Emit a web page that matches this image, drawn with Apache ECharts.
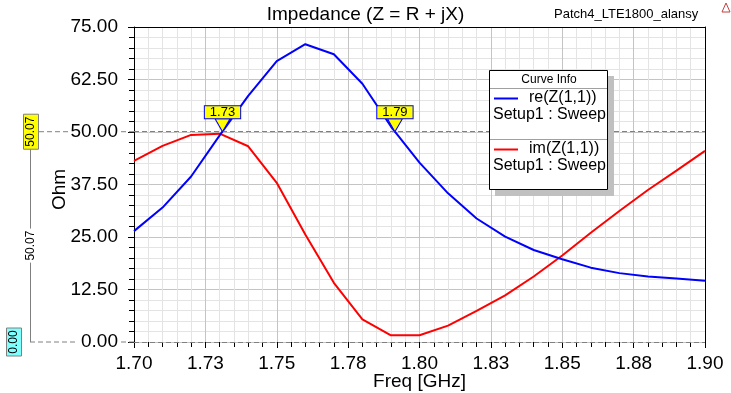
<!DOCTYPE html>
<html>
<head>
<meta charset="utf-8">
<script src="https://cdn.jsdelivr.net/npm/echarts@6/dist/echarts.min.js"></script>
<style>
html,body{margin:0;padding:0;background:#fff;}
#chart{width:731px;height:393px;}
</style>
</head>
<body>
<div id="chart"></div>
<script>
// ---- data ----
var freq = [1.70, 1.71, 1.72, 1.73, 1.74, 1.75, 1.76, 1.77, 1.78, 1.79, 1.80,
            1.81, 1.82, 1.83, 1.84, 1.85, 1.86, 1.87, 1.88, 1.89, 1.90];
var reZ = [26.4, 32.0, 39.4, 49.2, 58.6, 66.9, 70.9, 68.5, 61.5, 51.3, 42.7,
           35.4, 29.4, 25.1, 21.9, 19.7, 17.7, 16.4, 15.6, 15.1, 14.6];
var imZ = [43.1, 46.7, 49.3, 49.6, 46.6, 37.9, 25.6, 14.1, 5.4, 1.6, 1.6,
           3.9, 7.4, 11.1, 15.6, 20.6, 26.0, 31.2, 36.2, 40.8, 45.5];
var seriesNames = ['re(Z(1,1))', 'im(Z(1,1))'];
var setupName = 'Setup1 : Sweep';
var xTickLabels = ['1.70', '1.73', '1.75', '1.78', '1.80', '1.83', '1.85', '1.88', '1.90'];
var yTickLabels = ['0.00', '12.50', '25.00', '37.50', '50.00', '62.50', '75.00'];
var markerFreq = [1.731, 1.7914];
var markerLabels = ['1.73', '1.79'];
var markerValue = 50.07;
var markerValueLabel = '50.07';
var baseValue = 0;
var baseValueLabel = '0.00';
var titleText = 'Impedance (Z = R + jX)';
var projectText = 'Patch4_LTE1800_alansy';
var xName = 'Freq [GHz]';
var yName = 'Ohm';

var FONT = '"Liberation Sans", Arial, sans-serif';
var chart = echarts.init(document.getElementById('chart'), null, {renderer: 'canvas'});

function pairs(ys) { return freq.map(function (f, i) { return [f, ys[i]]; }); }

var axisCommonX = {
  type: 'value', min: 1.70, max: 1.90, interval: 0.025
};
var axisCommonY = {
  type: 'value', min: 0, max: 75, interval: 12.5
};

var option = {
  animation: false,
  textStyle: {fontFamily: FONT},
  title: [
    {text: titleText, left: 'center', top: 0,
     textStyle: {fontFamily: FONT, fontSize: 19, fontWeight: 'normal', color: '#000'}},
    {text: projectText, left: 549, top: 3,
     textStyle: {fontFamily: FONT, fontSize: 13, fontWeight: 'normal', color: '#000'}}
  ],
  grid: {left: 134, right: 26, top: 27, bottom: 51, containLabel: false, outerBoundsMode: 'none'},
  xAxis: [
    Object.assign({}, axisCommonX, {
      position: 'bottom',
      axisLine: {show: false},
      axisTick: {show: true, inside: false, length: 6, lineStyle: {color: '#000'}},
      minorTick: {show: true, splitNumber: 5, length: 5, lineStyle: {color: '#000'}},
      splitLine: {show: true, lineStyle: {color: '#c4c4c4', width: 1}},
      minorSplitLine: {show: true, lineStyle: {color: '#e4e4e4', width: 1}},
      axisLabel: {
        fontFamily: FONT, fontSize: 19, color: '#000', margin: 12,
        formatter: function (v) { return xTickLabels[Math.round((v - 1.70) / 0.025)]; }
      }
    }),
    Object.assign({}, axisCommonX, {
      position: 'top',
      axisLine: {show: true, onZero: false, lineStyle: {color: '#000', width: 1}},
      axisTick: {show: false}, axisLabel: {show: false}, splitLine: {show: false}
    })
  ],
  yAxis: [
    Object.assign({}, axisCommonY, {
      position: 'left',
      axisLine: {show: true, onZero: false, lineStyle: {color: '#000', width: 1}},
      axisTick: {show: true, inside: false, length: 6, lineStyle: {color: '#000'}},
      minorTick: {show: true, splitNumber: 5, length: 5, lineStyle: {color: '#000'}},
      splitLine: {show: true, lineStyle: {color: '#c4c4c4', width: 1}},
      minorSplitLine: {show: true, lineStyle: {color: '#e4e4e4', width: 1}},
      axisLabel: {
        fontFamily: FONT, fontSize: 19, color: '#000', margin: 16,
        formatter: function (v) { return yTickLabels[Math.round(v / 12.5)]; }
      }
    }),
    Object.assign({}, axisCommonY, {
      position: 'right',
      axisLine: {show: true, onZero: false, lineStyle: {color: '#000', width: 1}},
      axisTick: {show: false}, axisLabel: {show: false}, splitLine: {show: false}
    })
  ],
  series: [
    {
      type: 'line', name: seriesNames[0], data: pairs(reZ),
      xAxisIndex: 0, yAxisIndex: 0,
      symbol: 'none', color: '#0000ff',
      lineStyle: {color: '#0000ff', width: 2},
      z: 4,
      markPoint: {
        silent: true,
        symbol: 'triangle', symbolRotate: 180, symbolSize: [15, 13], symbolOffset: [0, -6.5],
        itemStyle: {color: '#ffff00', borderColor: '#0000ff', borderWidth: 1},
        label: {
          show: true, position: 'top', distance: 0,
          fontFamily: FONT, fontSize: 13, color: '#000',
          backgroundColor: '#ffff00', borderColor: '#0000ff', borderWidth: 1,
          padding: [0, 5], lineHeight: 12, height: 12,
          formatter: function (p) { return p.name; }
        },
        data: markerFreq.map(function (f, i) { return {name: markerLabels[i], coord: [f, markerValue]}; })
      }
    },
    {
      type: 'line', name: seriesNames[1], data: pairs(imZ),
      xAxisIndex: 0, yAxisIndex: 0,
      symbol: 'none', color: '#ff0000',
      lineStyle: {color: '#ff0000', width: 2},
      z: 3,
      markLine: {
        silent: true, symbol: 'none',
        label: {show: false},
        lineStyle: {color: '#808080', type: [5, 3], width: 1},
        data: [{yAxis: markerValue}, {yAxis: baseValue}]
      }
    }
  ]
};
chart.setOption(option);

// ---- decorations outside / over the plot ----
var py50 = chart.convertToPixel({yAxisIndex: 0}, markerValue);
var py0 = chart.convertToPixel({yAxisIndex: 0}, baseValue);
var pxL = chart.convertToPixel({xAxisIndex: 0}, axisCommonX.min);
var pxR = chart.convertToPixel({xAxisIndex: 0}, axisCommonX.max);
var pyTop = chart.convertToPixel({yAxisIndex: 0}, axisCommonY.max);
var grey = '#808080';
var dash = [5, 3];

var graphics = [
  // left marker scale
  {type: 'line', z: 90, shape: {x1: 39, y1: py50, x2: 68, y2: py50}, style: {stroke: grey, lineDash: dash, lineWidth: 1}},
  {type: 'line', z: 90, shape: {x1: 121, y1: py50, x2: 134, y2: py50}, style: {stroke: grey, lineDash: dash, lineWidth: 1}},
  {type: 'line', z: 90, shape: {x1: 30, y1: py0, x2: 78, y2: py0}, style: {stroke: grey, lineDash: dash, lineWidth: 1}},
  {type: 'line', z: 90, shape: {x1: 121, y1: py0, x2: 134, y2: py0}, style: {stroke: grey, lineDash: dash, lineWidth: 1}},
  {type: 'line', z: 90, shape: {x1: 30.5, y1: py50 + 17.5, x2: 30.5, y2: py0}, style: {stroke: grey, lineWidth: 1}},
  {type: 'rect', z: 95, shape: {x: 23.5, y: py50 - 17.5, width: 15, height: 35}, style: {fill: '#ffff00', stroke: grey, lineWidth: 1}},
  {type: 'text', z: 100, x: 31, y: py50, rotation: Math.PI / 2,
   style: {text: markerValueLabel, font: '12px ' + FONT, fill: '#000', align: 'center', verticalAlign: 'middle'}},
  {type: 'text', z: 100, x: 30.5, y: (py50 + 17.5 + py0) / 2, rotation: Math.PI / 2,
   style: {text: markerValueLabel, font: '12px ' + FONT, fill: '#000', align: 'center', verticalAlign: 'middle',
           backgroundColor: '#fff', padding: [0, 2]}},
  {type: 'rect', z: 95, shape: {x: 6.5, y: py0 - 14, width: 15, height: 28}, style: {fill: '#80ffff', stroke: grey, lineWidth: 1}},
  {type: 'text', z: 100, x: 14, y: py0, rotation: Math.PI / 2,
   style: {text: baseValueLabel, font: '12px ' + FONT, fill: '#000', align: 'center', verticalAlign: 'middle'}},
  // axis names
  {type: 'text', z: 100, x: 60, y: (pyTop + py0) / 2 + 5, rotation: Math.PI / 2,
   style: {text: yName, font: '19px ' + FONT, fill: '#000', align: 'center', verticalAlign: 'middle'}},
  {type: 'text', z: 100, x: (pxL + pxR) / 2, y: py0 + 40,
   style: {text: xName, font: '19px ' + FONT, fill: '#000', align: 'center', verticalAlign: 'middle'}},
  // small icon top right
  {type: 'polygon', z: 100, shape: {points: [[726, 3], [722, 12], [730, 12]]}, style: {fill: 'none', stroke: '#c04040', lineWidth: 1}},
  // legend box
  {type: 'rect', z: 90, shape: {x: 495, y: 76, width: 119, height: 120}, style: {fill: '#c0c0c0'}},
  {type: 'rect', z: 91, shape: {x: 489.5, y: 70.5, width: 118, height: 119}, style: {fill: '#fff', stroke: '#000', lineWidth: 1}},
  {type: 'text', z: 100, x: 549, y: 80, style: {text: 'Curve Info', font: '12px ' + FONT, fill: '#000', align: 'center', verticalAlign: 'middle'}},
  {type: 'line', z: 92, shape: {x1: 490, y1: 88.5, x2: 607, y2: 88.5}, style: {stroke: '#a0a0a0', lineWidth: 1}},
  {type: 'line', z: 92, shape: {x1: 494, y1: 98.5, x2: 518, y2: 98.5}, style: {stroke: '#0000ff', lineWidth: 2}},
  {type: 'text', z: 100, x: 529, y: 98, style: {text: seriesNames[0], font: '16px ' + FONT, fill: '#000', align: 'left', verticalAlign: 'middle'}},
  {type: 'text', z: 100, x: 493, y: 114.5, style: {text: setupName, font: '16px ' + FONT, fill: '#000', align: 'left', verticalAlign: 'middle'}},
  {type: 'line', z: 92, shape: {x1: 490, y1: 139.5, x2: 607, y2: 139.5}, style: {stroke: '#a0a0a0', lineWidth: 1}},
  {type: 'line', z: 92, shape: {x1: 494, y1: 149.5, x2: 518, y2: 149.5}, style: {stroke: '#ff0000', lineWidth: 2}},
  {type: 'text', z: 100, x: 529, y: 149, style: {text: seriesNames[1], font: '16px ' + FONT, fill: '#000', align: 'left', verticalAlign: 'middle'}},
  {type: 'text', z: 100, x: 493, y: 165.5, style: {text: setupName, font: '16px ' + FONT, fill: '#000', align: 'left', verticalAlign: 'middle'}}
];
chart.setOption({graphic: graphics});
</script>
</body>
</html>
